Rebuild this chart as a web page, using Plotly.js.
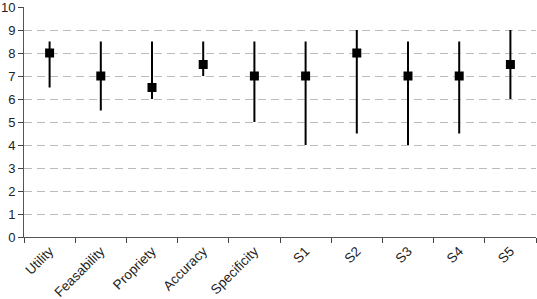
<!DOCTYPE html>
<html><head><meta charset="utf-8">
<script src="https://cdn.plot.ly/plotly-3.0.1.min.js"></script>
<style>html,body{margin:0;padding:0;background:#fff;}#c{width:537px;height:299px;}</style>
</head><body><div id="c"></div>
<script>
const categories = ["Utility","Feasability","Propriety","Accuracy","Specificity","S1","S2","S3","S4","S5"];
const medians = [8, 7, 6.5, 7.5, 7, 7, 8, 7, 7, 7.5];
const mins    = [6.5, 5.5, 6, 7, 5, 4, 4.5, 4, 4.5, 6];
const maxs    = [8.5, 8.5, 8.5, 8.5, 8.5, 8.5, 9, 8.5, 8.5, 9];
const yTicks = [0,1,2,3,4,5,6,7,8,9,10];

const trace = {
  type: 'scatter', mode: 'markers',
  x: categories, y: medians,
  marker: {symbol: 'square', size: 9, color: '#000'},
  error_y: {type: 'data', symmetric: false,
    array: maxs.map((v,i)=>v-medians[i]),
    arrayminus: medians.map((v,i)=>v-mins[i]),
    color: '#000', thickness: 2, width: 0},
  hoverinfo: 'none'
};
const layout = {
  width: 537, height: 299,
  margin: {l: 24, r: 1, t: 7, b: 62},
  paper_bgcolor: '#fff', plot_bgcolor: '#fff',
  showlegend: false,
  font: {family: 'Liberation Sans, Arial, sans-serif', size: 13, color: '#222'},
  xaxis: {type: 'category', tickson: 'boundaries', ticks: 'outside', ticklen: 5, tickcolor: '#444',
    showline: true, linecolor: '#555', linewidth: 1, showgrid: false, zeroline: false,
    tickangle: -45, tickfont: {size: 13.5, color: '#222'}, range: [-0.5, 9.5]},
  yaxis: {range: [0, 10], tickvals: yTicks, ticks: 'outside', ticklen: 5, tickcolor: '#444',
    showline: true, linecolor: '#555', linewidth: 1, zeroline: false, ticklabeloverflow: 'allow',
    showgrid: true, gridcolor: '#bbb', griddash: '8px,5px', gridwidth: 1,
    tickfont: {size: 13, color: '#222'}}
};
Plotly.newPlot('c', [trace], layout, {staticPlot: true});
</script></body></html>
